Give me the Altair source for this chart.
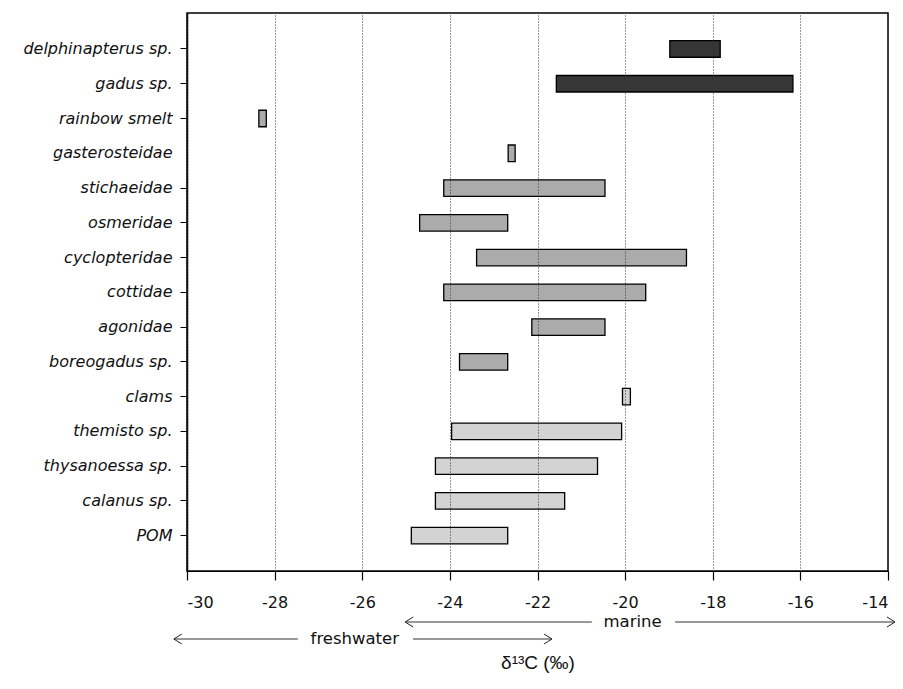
import altair as alt
import pandas as pd

# ---- data ----
taxa = ["delphinapterus sp.", "gadus sp.", "rainbow smelt", "gasterosteidae",
        "stichaeidae", "osmeridae", "cyclopteridae", "cottidae", "agonidae",
        "boreogadus sp.", "clams", "themisto sp.", "thysanoessa sp.",
        "calanus sp.", "POM"]
d13c_min = [-18.98, -21.57, -28.36, -22.67, -24.14, -24.69, -23.39, -24.14,
            -22.13, -23.78, -20.06, -23.96, -24.33, -24.33, -24.88]
d13c_max = [-17.83, -16.17, -28.19, -22.51, -20.46, -22.68, -18.60, -19.53,
            -20.46, -22.68, -19.88, -20.08, -20.63, -21.38, -22.68]
groups = ["top", "top", "fish", "fish", "fish", "fish", "fish", "fish", "fish",
          "fish", "lower", "lower", "lower", "lower", "lower"]
x_ticks = [-30, -28, -26, -24, -22, -20, -18, -16, -14]

# habitat arrows (in δ13C units)
arrow_names = ["marine", "freshwater"]
arrow_from = [-25.02, -30.30]
arrow_to = [-13.84, -21.67]
gap_lo = [-20.76, -27.47]
gap_hi = [-18.86, -24.84]
label_at = [-19.83, -26.17]

FONT = "DejaVu Sans"

df = pd.DataFrame({"taxon": taxa, "lo": d13c_min, "hi": d13c_max, "grp": groups})

xscale = alt.Scale(domain=[-30, -14], nice=False, zero=False)

bars = alt.Chart(df).mark_bar(stroke="black", strokeWidth=1.3).encode(
    x=alt.X("lo:Q", scale=xscale,
            axis=alt.Axis(values=x_ticks, title="δ¹³C (‰)", grid=True, zindex=1,
                          labelExpr="replace(datum.label, '\u2212', '-')",
                          gridDash=[1, 2], gridColor="#333", gridWidth=1,
                          domainColor="black", domainWidth=1.2,
                          tickColor="black", tickSize=9, tickWidth=1.2,
                          labelFont=FONT, labelFontSize=16, labelColor="#111",
                          labelPadding=14, titleFont="Liberation Sans",
                          titleFontSize=19, titleFontWeight="normal",
                          titleColor="#111", titlePadding=43)),
    x2="hi:Q",
    y=alt.Y("taxon:N", sort=taxa, title=None,
            scale=alt.Scale(paddingInner=0.525, paddingOuter=0.788, align=0.506),
            axis=alt.Axis(labelFont=FONT, labelFontStyle="italic",
                          labelFontSize=16, labelColor="#111",
                          tickSize=7, tickColor="black",
                          tickOpacity={"condition": {"test": "datum.value === 'gasterosteidae'", "value": 0}, "value": 1},
                          labelPadding=8, domainColor="black", domainWidth=1.5,
                          labelLimit=300)),
    color=alt.Color("grp:N", legend=None,
                    scale=alt.Scale(domain=["top", "fish", "lower"],
                                    range=["#363636", "#ababab", "#d3d3d3"])),
)

layers = [bars]
ypix = {"marine": 609, "freshwater": 626}
for i, name in enumerate(arrow_names):
    seg = pd.DataFrame({"lo": [arrow_from[i], gap_hi[i]], "hi": [gap_lo[i], arrow_to[i]]})
    layers.append(alt.Chart(seg).mark_rule(color="#333", strokeWidth=1).encode(
        x=alt.X("lo:Q", scale=xscale), x2="hi:Q", y=alt.value(ypix[name])))
    left = pd.DataFrame({"lo": [arrow_from[i]]})
    right = pd.DataFrame({"lo": [arrow_to[i]]})
    layers.append(alt.Chart(left).mark_point(
        shape="M 1.6 -1 L 0 0 L 1.6 1", size=100, filled=False,
        stroke="#222", strokeWidth=1, opacity=1).encode(
        x=alt.X("lo:Q", scale=xscale), y=alt.value(ypix[name])))
    layers.append(alt.Chart(right).mark_point(
        shape="M -1.6 -1 L 0 0 L -1.6 1", size=100, filled=False,
        stroke="#222", strokeWidth=1, opacity=1).encode(
        x=alt.X("lo:Q", scale=xscale), y=alt.value(ypix[name])))
    lab = pd.DataFrame({"lo": [label_at[i]], "t": [name]})
    layers.append(alt.Chart(lab).mark_text(
        font=FONT, fontSize=16.5, color="#111", baseline="middle", align="center").encode(
        x=alt.X("lo:Q", scale=xscale), y=alt.value(ypix[name]), text="t:N"))

chart = alt.layer(*layers).properties(
    width=701, height=558,
    autosize=alt.AutoSizeParams(type="none"),
    padding={"left": 187, "top": 13, "right": 15, "bottom": 118},
    background="white",
).configure_view(stroke="black", strokeWidth=1.5)

chart.save("out.html", embed_options={"renderer": "svg", "actions": False})
